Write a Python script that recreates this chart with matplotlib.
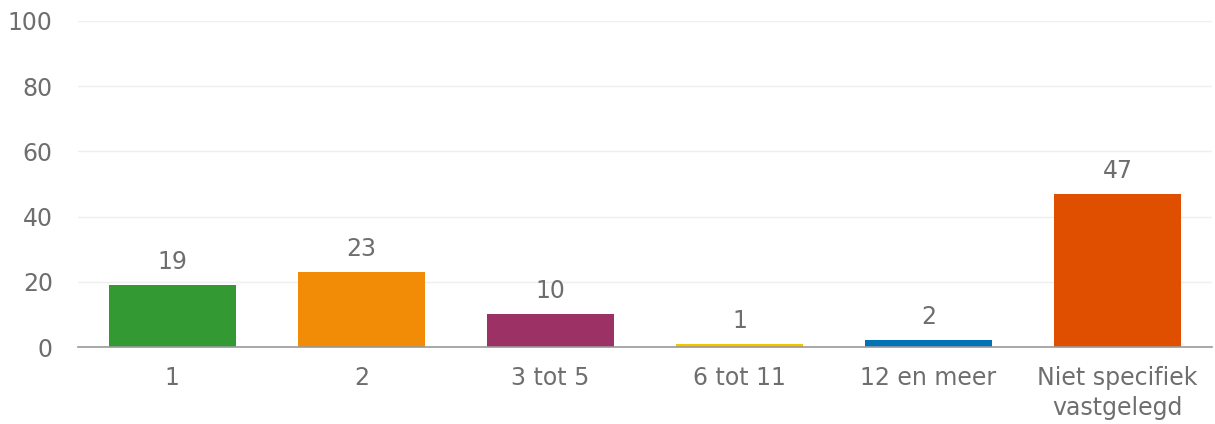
import matplotlib.pyplot as plt

categories = ['1', '2', '3 tot 5', '6 tot 11', '12 en meer', 'Niet specifiek\nvastgelegd']
values = [19, 23, 10, 1, 2, 47]
colors = ['#339933', '#F28C06', '#9B3164', '#F5C400', '#0072B5', '#E04E00']
y_ticks = [0, 20, 40, 60, 80, 100]

plt.rcParams['font.family'] = ['DejaVu Sans']
text_color = '#6E6E6E'

fig = plt.figure(figsize=(12.15, 4.24), dpi=100)
ax = fig.add_axes([0.064, 0.1816, 0.9335, 0.769])

x = range(len(categories))
bars = ax.bar(x, values, width=0.67, color=colors, zorder=3)

for b, v in zip(bars, values):
    ax.annotate(str(v), (b.get_x() + b.get_width() / 2, v), xytext=(0, 8),
                textcoords='offset points', ha='center', va='bottom',
                fontsize=17, color=text_color)

ax.set_xlim(-0.5, len(categories) - 0.5)
ax.set_ylim(0, 100)
ax.set_yticks(y_ticks)
ax.set_xticks(list(x))
ax.set_xticklabels(categories, linespacing=1.3)
ax.tick_params(axis='both', length=0, labelsize=17, labelcolor=text_color)
ax.tick_params(axis='x', pad=14)
ax.tick_params(axis='y', pad=18)

ax.grid(axis='y', color='#EFEFEF', linewidth=1, zorder=0)
for s in ['top', 'right', 'left']:
    ax.spines[s].set_visible(False)
ax.spines['bottom'].set_color('#999999')
ax.spines['bottom'].set_linewidth(1.2)
ax.spines['bottom'].set_zorder(4)

fig.savefig('out.png', dpi=100)
